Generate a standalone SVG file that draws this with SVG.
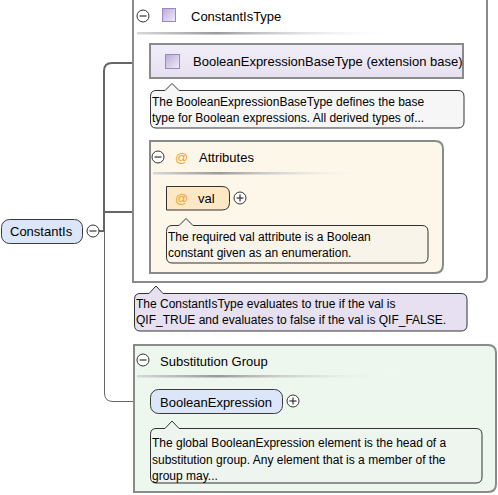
<svg xmlns="http://www.w3.org/2000/svg" width="498" height="495" viewBox="0 0 498 495">
<style>
.lbl{font-family:"Liberation Sans",Arial,sans-serif;font-size:13px;fill:#000}
.doc{font-family:"Liberation Sans",Arial,sans-serif;font-size:12px;fill:#000}
.at{font-family:"Liberation Sans",Arial,sans-serif;font-size:13px;fill:#f0a02c}
.box{stroke:#8a8a8a;stroke-width:2}
.call{stroke:#333;stroke-width:1}
.btn{fill:#fff;stroke:#333;stroke-width:1}
.btnl{stroke:#333;stroke-width:1.2}
.elem{fill:#dbe6f8;stroke:#3a3a3a;stroke-width:1}
.conn{fill:none;stroke:#666}
</style>
<defs>
<linearGradient id="sep" x1="0" x2="1" y1="0" y2="0">
<stop offset="0" stop-color="#d8d8d8"/>
<stop offset="0.3" stop-color="#9a9a9a"/>
<stop offset="1" stop-color="#ffffff" stop-opacity="0"/>
</linearGradient>
<linearGradient id="sq" x1="0" y1="0" x2="1" y2="1">
<stop offset="0" stop-color="#b9a8d8"/>
<stop offset="1" stop-color="#f2eefa"/>
</linearGradient>
<linearGradient id="base" x1="0" y1="0" x2="0" y2="1">
<stop offset="0" stop-color="#f1eef8"/>
<stop offset="1" stop-color="#e6e0f1"/>
</linearGradient>
</defs>

<g id="connectors">
<path class="conn" stroke-width="2" d="M99,231 H104 V71 Q104,63 112,63 H150"/>
<path class="conn" stroke-width="2" d="M104,212 H150"/>
<path class="conn" stroke-width="1" stroke="#888" d="M104.5,231 V393 Q104.5,401.5 113,401.5 H150"/>
</g>

<g id="ConstantIsType">
<path class="box" fill="#fff" d="M133,-2 H487 V276 Q487,282 481,282 H133 Z"/>
<circle class="btn" cx="143" cy="16" r="6"/>
<line class="btnl" x1="139.5" y1="16" x2="146.5" y2="16"/>
<rect x="162.5" y="8.5" width="13" height="13" fill="url(#sq)" stroke="#9a88c0"/>
<text class="lbl" x="191" y="21">ConstantIsType</text>
<rect x="137" y="32" width="265" height="2.5" fill="url(#sep)"/>
</g>

<g id="BooleanExpressionBaseType">
<rect class="box" x="150" y="44" width="313" height="34" fill="url(#base)"/>
<rect x="165.5" y="54.5" width="14" height="14" fill="url(#sq)" stroke="#9a88c0"/>
<text class="lbl" x="193" y="66">BooleanExpressionBaseType (extension base)</text>
<path class="call" fill="#f6f6f6" d="M156,90.5 H165 L172,83.5 L179,90.5 H458 Q464,90.5 464,96.5 V122 Q464,128 458,128 H156 Q150.5,128 150.5,122 V96.5 Q150.5,90.5 156,90.5 Z"/>
<text class="doc" x="152" y="106">The BooleanExpressionBaseType defines the base</text>
<text class="doc" x="152" y="122">type for Boolean expressions. All derived types of...</text>
</g>

<g id="Attributes">
<path class="box" fill="#fdf7ea" d="M150,141 H435 Q443,141 443,149 V265 Q443,273 435,273 H150 Z"/>
<circle class="btn" cx="158" cy="157" r="6"/>
<line class="btnl" x1="154.5" y1="157" x2="161.5" y2="157"/>
<text class="at" x="175" y="162">@</text>
<text class="lbl" x="199" y="162">Attributes</text>
<rect x="153" y="172" width="220" height="2.5" fill="url(#sep)"/>
</g>

<g id="val">
<path fill="#fde8c6" stroke="#333" stroke-width="1" d="M166.5,186.5 H222 Q229.5,186.5 229.5,194 V202.5 Q229.5,210 222,210 H166.5 Z"/>
<text class="at" x="175" y="203">@</text>
<text class="lbl" x="198" y="203">val</text>
<circle class="btn" cx="240" cy="198" r="6"/>
<line class="btnl" x1="236.5" y1="198" x2="243.5" y2="198"/>
<line class="btnl" x1="240" y1="194.5" x2="240" y2="201.5"/>
<path class="call" fill="#f8f4ea" d="M172,225.5 H179 L186,218.5 L193,225.5 H422 Q428,225.5 428,231.5 V257 Q428,263 422,263 H172 Q166.5,263 166.5,257 V231.5 Q166.5,225.5 172,225.5 Z"/>
<text class="doc" x="168" y="241">The required val attribute is a Boolean</text>
<text class="doc" x="168" y="257">constant given as an enumeration.</text>
</g>

<g id="ConstantIsTypeDoc">
<path class="call" fill="#e6e0f0" d="M140,293.5 H149 L156,286 L163,293.5 H461 Q467,293.5 467,299.5 V325 Q467,331 461,331 H140 Q134.5,331 134.5,325 V299.5 Q134.5,293.5 140,293.5 Z"/>
<text class="doc" x="136" y="308">The ConstantIsType evaluates to true if the val is</text>
<text class="doc" x="136" y="324">QIF_TRUE and evaluates to false if the val is QIF_FALSE.</text>
</g>

<g id="SubstitutionGroup">
<path class="box" fill="#eef7ee" d="M134,345 H488 Q496,345 496,353 V484 Q496,492 488,492 H134 Z"/>
<circle class="btn" cx="143" cy="360" r="6"/>
<line class="btnl" x1="139.5" y1="360" x2="146.5" y2="360"/>
<text class="lbl" x="160" y="366">Substitution Group</text>
<rect x="137" y="375" width="270" height="2.5" fill="url(#sep)"/>
</g>

<g id="BooleanExpression">
<rect class="elem" x="150.5" y="389.5" width="132" height="24" rx="8"/>
<text class="lbl" x="160" y="407">BooleanExpression</text>
<circle class="btn" cx="293" cy="401" r="6"/>
<line class="btnl" x1="289.5" y1="401" x2="296.5" y2="401"/>
<line class="btnl" x1="293" y1="397.5" x2="293" y2="404.5"/>
<path class="call" fill="#eef4ee" d="M156,428.5 H165 L172,421 L179,428.5 H476 Q482,428.5 482,434.5 V477 Q482,483 476,483 H156 Q150.5,483 150.5,477 V434.5 Q150.5,428.5 156,428.5 Z"/>
<text class="doc" x="152" y="447">The global BooleanExpression element is the head of a</text>
<text class="doc" x="152" y="464">substitution group. Any element that is a member of the</text>
<text class="doc" x="152" y="480">group may...</text>
</g>

<g id="ConstantIs">
<rect class="elem" x="1.5" y="219.5" width="81" height="24" rx="8"/>
<text class="lbl" x="10" y="236">ConstantIs</text>
<circle class="btn" cx="93" cy="231" r="6"/>
<line class="btnl" x1="89.5" y1="231" x2="96.5" y2="231"/>
</g>
</svg>
